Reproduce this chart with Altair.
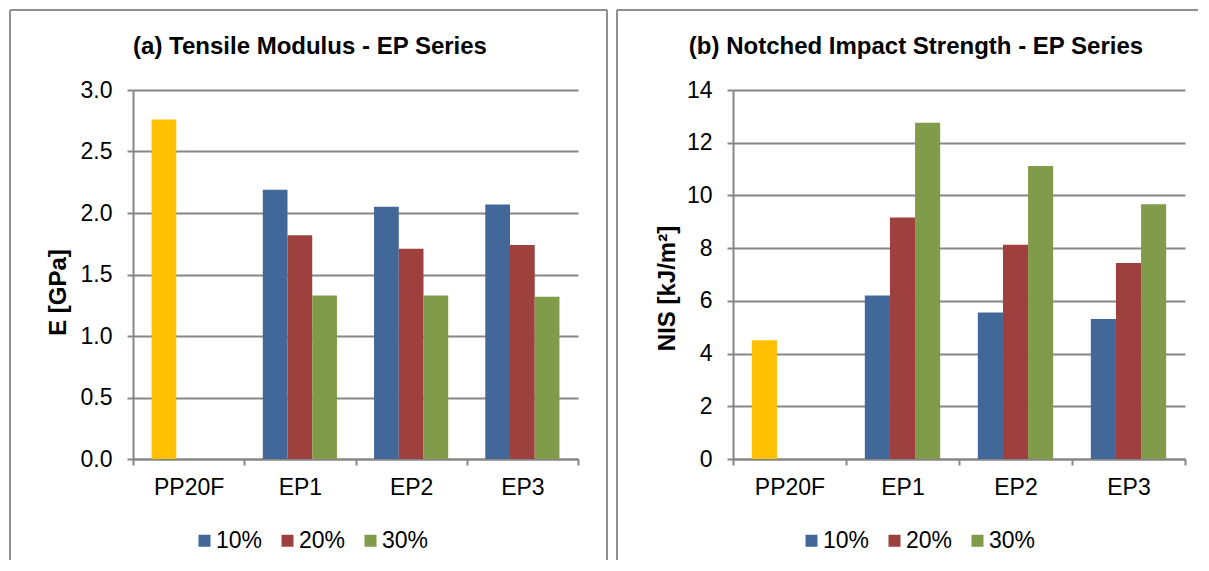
import altair as alt
import pandas as pd

# ---- data ----
categories = ["PP20F", "EP1", "EP2", "EP3"]
series = ["10%", "20%", "30%"]
ep_groups = ["EP1", "EP2", "EP3"]

tensile_pp20f = 2.76
tensile_10 = [2.19, 2.05, 2.07]
tensile_20 = [1.82, 1.71, 1.74]
tensile_30 = [1.33, 1.33, 1.32]
tensile_ticks = [0.0, 0.5, 1.0, 1.5, 2.0, 2.5, 3.0]

nis_pp20f = 4.51
nis_10 = [6.20, 5.56, 5.31]
nis_20 = [9.16, 8.13, 7.44]
nis_30 = [12.76, 11.12, 9.67]
nis_ticks = [0, 2, 4, 6, 8, 10, 12, 14]

series_colors = ["#416899", "#9E403D", "#809B49"]
ref_color = "#FFC000"
frame_color = "#8F8F8F"
grid_color = "#868686"
FONT = "Liberation Sans"


def long_table(v10, v20, v30):
    rows = []
    for s, vals in zip(series, [v10, v20, v30]):
        for c, v in zip(ep_groups, vals):
            rows.append({"cat": c, "series": s, "value": v})
    return pd.DataFrame(rows)


def panel(ep_df, ref_value, ticks, fmt, ytitle, title, width, height,
          title_x, legend_x, ytitle_x, ytitle_y, frame_rules):
    x_enc = alt.X("cat:N", sort=categories,
                  scale=alt.Scale(domain=categories, paddingInner=0, paddingOuter=0),
                  axis=alt.Axis(title=None, labelAngle=0, tickBand="extent",
                                labelPadding=11, grid=False))
    xo_enc = alt.XOffset("series:N",
                         scale=alt.Scale(domain=series, paddingInner=0, paddingOuter=0.75))
    y_enc = alt.Y("value:Q",
                  scale=alt.Scale(domain=[ticks[0], ticks[-1]], nice=False, zero=True),
                  axis=alt.Axis(values=ticks, format=fmt, title=ytitle, grid=True,
                                labelPadding=15, titleX=ytitle_x, titleY=ytitle_y,
                                titleAlign="center", titleBaseline="middle"))

    bars = alt.Chart(ep_df).mark_bar().encode(
        x=x_enc, xOffset=xo_enc, y=y_enc,
        color=alt.Color("series:N",
                        scale=alt.Scale(domain=series, range=series_colors),
                        legend=alt.Legend(title=None, orient="none",
                                          legendX=legend_x, legendY=439,
                                          direction="horizontal",
                                          symbolType="square", symbolSize=144,
                                          symbolStrokeWidth=0, symbolOpacity=1,
                                          labelFont=FONT, labelFontSize=23,
                                          labelColor="black", labelOffset=0,
                                          columnPadding=13, padding=0)),
    )

    ref_df = pd.DataFrame({"cat": ["PP20F"], "series": ["10%"], "value": [ref_value]})
    ref_bar = alt.Chart(ref_df).mark_bar(color=ref_color).encode(
        x=x_enc, xOffset=xo_enc, y=y_enc)

    one = pd.DataFrame({"t": [title]})
    title_mark = alt.Chart(one).mark_text(
        font=FONT, fontSize=24, fontWeight="bold", color="black",
        align="center", baseline="alphabetic"
    ).encode(x=alt.value(title_x), y=alt.value(-36), text="t:N")

    layers = [bars, ref_bar, title_mark]
    for (xa, xb, ya, yb) in frame_rules:
        layers.append(
            alt.Chart(one).mark_rule(color=frame_color, strokeWidth=2).encode(
                x=alt.value(xa), x2=alt.value(xb), y=alt.value(ya), y2=alt.value(yb)))

    return alt.layer(*layers).properties(width=width, height=height)


left = panel(long_table(tensile_10, tensile_20, tensile_30), tensile_pp20f,
             tensile_ticks, ".1f", "E [GPa]", "(a) Tensile Modulus - EP Series",
             445, 369, title_x=177, legend_x=60, ytitle_x=-75, ytitle_y=202,
             frame_rules=[(-123, 474, -80, -80), (-123, -123, -80, 470),
                          (474, 474, -80, 470)])

right = panel(long_table(nis_10, nis_20, nis_30), nis_pp20f,
              nis_ticks, "d", "NIS [kJ/m²]", "(b) Notched Impact Strength - EP Series",
              452, 369, title_x=183, legend_x=67, ytitle_x=-66, ytitle_y=198,
              frame_rules=[(-116, 465, -80, -80), (-116, -116, -80, 470)])

chart = alt.hconcat(left, right, spacing=8).resolve_scale(
    x="independent", y="independent", xOffset="independent", color="independent"
).resolve_legend(color="independent").properties(
    padding={"left": 1, "top": 1, "right": 0, "bottom": 0}
).configure_view(stroke=None).configure_axis(
    labelFont=FONT, labelFontSize=23, labelColor="black",
    titleFont=FONT, titleFontSize=24, titleFontWeight="bold", titleColor="black",
    domainColor=grid_color, tickColor=grid_color, gridColor=grid_color,
    domainWidth=2, tickWidth=2, gridWidth=2, tickSize=6
)

chart.save("out.html", embed_options={"renderer": "svg", "actions": False})
